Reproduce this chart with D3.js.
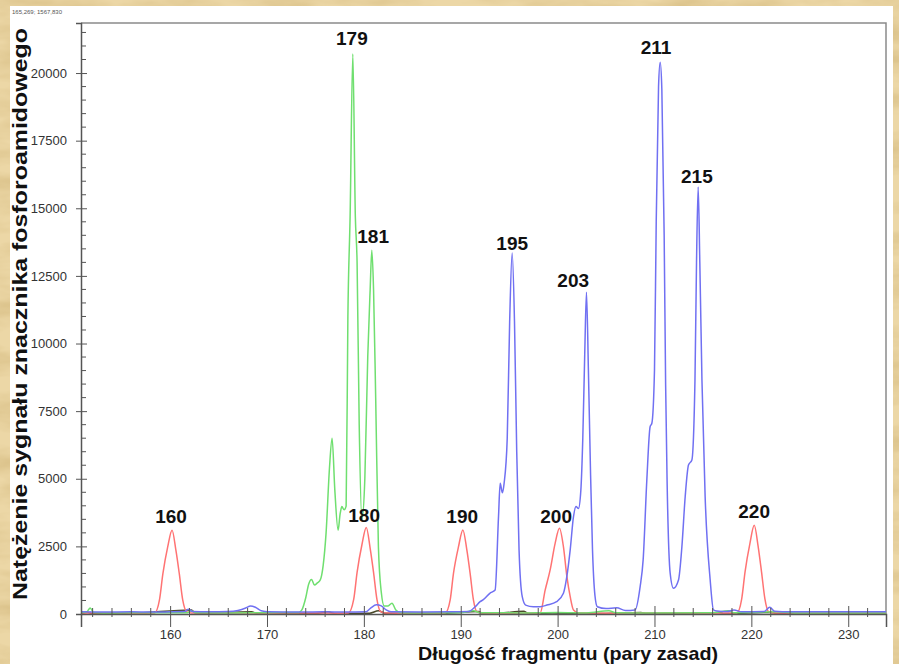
<!DOCTYPE html>
<html lang="pl">
<head>
<meta charset="utf-8">
<title>Elektroforegram</title>
<script src="https://d3js.org/d3.v7.min.js"></script>
<style>
  body { margin: 0; background: #e8d3a2; }
  svg { display: block; }
  text { font-family: "Liberation Sans", Arial, sans-serif; }
</style>
</head>
<body>
<div class="chart"></div>
<script>
// traces: [fragment length (bp), signal]
const redTrace = [
  [150.8,40],[154,50],[156.5,30],[158.4,40],[158.9,520],[159.25,1480],[159.75,2480],[160.2,3100],[160.6,2350],[160.95,1480],[161.3,520],[161.7,90],[162.2,40],
  [166,40],[170,30],[174,40],[177.5,30],[178.4,40],[178.95,540],[179.3,1540],[179.8,2560],[180.25,3200],[180.65,2430],[181.0,1540],[181.35,540],[181.7,100],[182.2,40],
  [185,30],[188.39,30],[188.91,520],[189.25,1500],[189.77,2490],[190.22,3110],[190.63,2370],[190.97,1500],[191.31,520],[191.66,85],[192.2,40],
  [195,30],[198.2,40],[198.72,890],[199.23,1630],[199.75,2620],[200.19,3170],[200.6,2490],[200.96,1380],[201.3,640],[201.64,150],[202.2,40],
  [206,30],[210,40],[215,30],[218.5,40],[219.0,550],[219.35,1560],[219.85,2600],[220.3,3280],[220.7,2500],[221.05,1560],[221.4,560],[221.75,100],[222.3,40],
  [226,40],[233.9,40]
];
const greenTrace = [
  [150.8,50],[151.4,80],[151.75,220],[152.1,60],[154,40],[158,50],[161.8,50],[162.2,120],[162.6,50],[166,40],[170,50],[173.3,60],
  [173.6,150],[174.0,600],[174.3,1100],[174.6,1280],[174.9,1070],[175.2,1150],[175.5,1260],[175.8,1800],[176.1,3000],[176.45,5400],[176.72,6500],
  [177.0,4600],[177.34,3100],[177.55,3700],[177.73,3970],[177.96,3850],[178.17,3990],[178.35,11000],[178.58,14700],[178.86,20700],[179.12,14700],
  [179.3,13000],[179.52,7000],[179.8,3500],[180.1,5000],[180.4,9500],[180.65,12000],[180.82,13450],[181.0,12000],[181.22,8000],[181.5,2500],
  [181.8,800],[182.1,300],[182.5,300],[182.9,400],[183.3,150],[183.8,50],[186,40],[190,50],[191.3,120],[192,50],[196,40],[200,60],[203,40],
  [205.3,120],[206,50],[209,40],[216,50],[217.6,120],[218.2,50],[222.6,80],[225,40],[233.9,40]
];
const blueTrace = [
  [150.8,80],[153,70],[156,80],[158,70],[160,80],[161.5,90],[161.9,180],[162.3,90],[164,80],[166,90],[167,130],[167.8,220],[168.3,300],[168.8,250],
  [169.4,120],[170.2,80],[173,70],[176,80],[178,70],[180.2,80],[180.7,220],[181.3,340],[181.8,300],[182.3,150],[182.8,80],[186,70],[189,80],
  [190.8,90],[191.5,270],[192.0,455],[192.3,520],[193.0,765],[193.55,890],[193.9,3600],[194.07,4830],[194.3,4480],[194.48,4840],[194.8,6500],
  [195.05,10800],[195.31,13350],[195.55,10800],[195.78,6000],[196.02,2370],[196.35,640],[196.7,330],[197.5,270],[198.2,270],[198.9,330],[199.9,455],
  [200.6,765],[200.95,1380],[201.3,2370],[201.64,3600],[201.9,3970],[202.15,3900],[202.4,4580],[202.6,6500],[202.8,9600],[202.98,11900],
  [203.18,9000],[203.4,5200],[203.6,2400],[203.85,700],[204.1,270],[205,200],[206.1,230],[207,130],[208.0,150],[208.52,1010],[208.83,2000],
  [209.21,4955],[209.55,6925],[209.73,7050],[210.0,9000],[210.18,14500],[210.42,19500],[210.59,20400],[210.76,19400],[211.0,14000],[211.15,8500],
  [211.3,4955],[211.62,1505],[211.96,950],[212.48,1257],[212.83,2488],[213.17,4337],[213.51,5508],[213.86,5693],[214.18,8650],[214.34,13000],
  [214.51,15786],[214.68,13000],[214.9,8650],[215.23,4337],[215.75,1257],[216.09,150],[216.44,110],[217.5,90],[218.2,150],[219,80],[221.3,90],
  [221.9,250],[222.4,100],[224,80],[228,80],[233.9,80]
];
const darkTrace = [
  [150.8,20],[151.5,60],[152,20],[156,30],[162.2,150],[162.6,40],[163.3,30],[168.4,80],[169,20],[175,20],[176.3,80],[177,20],[180.6,30],
  [181.5,120],[182.2,30],[188,30],[191.8,90],[192.3,20],[194,30],[196.5,100],[197,20],[199.5,40],[204,20],[208.6,60],[209.2,20],[213.2,20],
  [216.7,60],[217.2,20],[222,60],[222.7,20],[233.9,20]
];
// peak labels: text, bp, signal at label baseline
const peakLabels = [
  ['160',160.10,3364],['179',178.76,21036],['180',180.03,3401],['181',180.96,13716],['190',190.15,3364],['195',195.31,13457],
  ['200',199.85,3364],['203',201.61,12089],['211',210.17,20692],['215',214.38,15934],['220',220.29,3549]
];
const xTickValues = [160,170,180,190,200,210,220,230];
const yTickValues = [0,2500,5000,7500,10000,12500,15000,17500,20000];
const xDomain = [150.8, 233.9];
const yDomain = [0, 21850];

const W = 899, H = 664;
const svg = d3.select('.chart').append('svg').attr('width', W).attr('height', H);

// parchment background
const defs = svg.append('defs');
const f = defs.append('filter').attr('id','paper').attr('x',0).attr('y',0).attr('width','100%').attr('height','100%');
f.append('feTurbulence').attr('type','fractalNoise').attr('baseFrequency','0.012 0.04').attr('numOctaves',4).attr('seed',7);
f.append('feColorMatrix').attr('type','matrix')
  .attr('values','0 0 0 0 0.62  0 0 0 0 0.45  0 0 0 0 0.18  1.3 0 0 0 -0.5');
svg.append('rect').attr('width', W).attr('height', H).attr('fill', '#ecd7a6');
svg.append('rect').attr('width', W).attr('height', H).attr('filter', 'url(#paper)');

// white panel
svg.append('rect').attr('x', 10).attr('y', 6).attr('width', 883).attr('height', 658).attr('fill', '#fff');
svg.append('text').attr('x', 12).attr('y', 14).attr('font-size', 6).attr('fill', '#555').text('165,269; 1567,830');

const x = d3.scaleLinear().domain(xDomain).range([81, 886]);
const y = d3.scaleLinear().domain(yDomain).range([614, 23]);

// frame (top/right)
svg.append('path')
  .attr('d', `M${x(xDomain[0])},${y(yDomain[1])}H${x(xDomain[1])}V${y(0)}`)
  .attr('fill', 'none').attr('stroke', '#8a8a8a').attr('stroke-width', 1.5);

// traces
svg.append('clipPath').attr('id', 'plot').append('rect')
  .attr('x', 81).attr('y', 23).attr('width', 805).attr('height', 592);
const line = d3.line().x(d => x(d[0])).y(d => y(d[1])).curve(d3.curveMonotoneX);
const traces = [
  [darkTrace, '#4a4a2a'],
  [redTrace, '#ff7373'],
  [greenTrace, '#6fdf6f'],
  [blueTrace, '#7070f2']
];
svg.append('g').attr('clip-path', 'url(#plot)')
  .selectAll('path').data(traces).join('path')
  .attr('d', d => line(d[0]))
  .attr('fill', 'none')
  .attr('stroke', d => d[1])
  .attr('stroke-width', 1.5)
  .attr('stroke-linejoin', 'round');

// y axis
const yAxis = svg.append('g').attr('transform', `translate(${x(xDomain[0])},0)`)
  .call(d3.axisLeft(y).tickValues(yTickValues).tickSize(5).tickPadding(9).tickFormat(d3.format('d')));
yAxis.select('.domain').attr('stroke', '#555').attr('stroke-width', 1.5);
yAxis.selectAll('.tick line').attr('x2', -5).attr('x1', 6).attr('stroke', '#555');
yAxis.selectAll('.tick text').attr('font-size', 13).attr('fill', '#333').attr('font-family', '"Liberation Sans", Arial, sans-serif');
yAxis.append('g').selectAll('line')
  .data(d3.range(500, 21850, 500).filter(v => v % 2500 !== 0))
  .join('line')
  .attr('x1', 0).attr('x2', 5).attr('y1', d => y(d)).attr('y2', d => y(d))
  .attr('stroke', '#555');

// x axis
const xAxis = svg.append('g').attr('transform', `translate(0,${y(0)})`)
  .call(d3.axisBottom(x).tickValues(xTickValues).tickSize(13).tickPadding(3).tickFormat(d3.format('d')));
xAxis.select('.domain').attr('stroke', '#555').attr('stroke-width', 1.5);
xAxis.selectAll('.tick line').attr('y1', -8).attr('stroke', '#555');
xAxis.selectAll('.tick text').attr('font-size', 13).attr('fill', '#333').attr('font-family', '"Liberation Sans", Arial, sans-serif');
xAxis.append('g').selectAll('line')
  .data(d3.range(152, 234, 2).filter(v => v % 10 !== 0))
  .join('line')
  .attr('x1', d => x(d)).attr('x2', d => x(d)).attr('y1', -6).attr('y2', 3)
  .attr('stroke', '#555');

// peak labels
svg.append('g').selectAll('text').data(peakLabels).join('text')
  .attr('x', d => x(d[1])).attr('y', d => y(d[2]))
  .attr('text-anchor', 'middle')
  .attr('font-size', 19).attr('font-weight', 'bold').attr('fill', '#111')
  .text(d => d[0]);

// axis titles
svg.append('text')
  .attr('transform', 'translate(27,314) rotate(-90)')
  .attr('text-anchor', 'middle')
  .attr('font-size', 21).attr('font-weight', 'bold').attr('fill', '#111')
  .attr('textLength', 572).attr('lengthAdjust', 'spacingAndGlyphs')
  .text('Natężenie sygnału znacznika fosforoamidowego');
svg.append('text')
  .attr('x', 568).attr('y', 659.5)
  .attr('text-anchor', 'middle')
  .attr('font-size', 18.5).attr('font-weight', 'bold').attr('fill', '#111')
  .attr('textLength', 300).attr('lengthAdjust', 'spacingAndGlyphs')
  .text('Długość fragmentu (pary zasad)');
</script>
</body>
</html>
